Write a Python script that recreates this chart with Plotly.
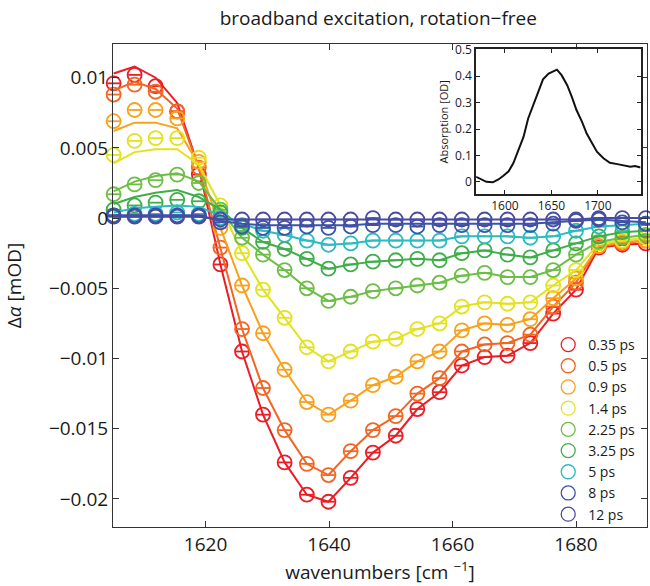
import plotly.graph_objects as go

# ---------------- data ----------------
wavenumber = [1605.1, 1608.5, 1611.9, 1615.4, 1618.9, 1622.4, 1625.9, 1629.3, 1632.8, 1636.4,
              1639.9, 1643.5, 1647.1, 1650.8, 1654.3, 1657.9, 1661.5, 1665.2, 1668.9, 1672.6,
              1676.3, 1680.0, 1683.7, 1687.5, 1691.3]

delays = ["0.35 ps", "0.5 ps", "0.9 ps", "1.4 ps", "2.25 ps", "3.25 ps", "5 ps", "8 ps", "12 ps"]
colors = ["#ec1c24", "#f26522", "#f9a11b", "#e3e21c", "#6cbe45", "#3fae49", "#2bbcc0", "#3a55a6", "#4a4aa3"]

d035 = [0.0096, 0.0102, 0.0094, 0.0076, 0.0031, -0.0033, -0.0095, -0.0140, -0.0174, -0.0197,
        -0.0202, -0.0185, -0.0167, -0.0155, -0.0136, -0.0124, -0.0105, -0.0099, -0.0098, -0.0089,
        -0.0068, -0.0051, -0.0021, -0.0019, -0.0018]
f035 = [0.0103, 0.0108, 0.0100, 0.0082, 0.0036, -0.0033, -0.0095, -0.0140, -0.0174, -0.0197,
        -0.0202, -0.0185, -0.0167, -0.0155, -0.0136, -0.0124, -0.0105, -0.0099, -0.0098, -0.0089,
        -0.0068, -0.0051, -0.0021, -0.0019, -0.0018]

d05 = [0.0088, 0.0095, 0.0090, 0.0076, 0.0036, -0.0021, -0.0079, -0.0121, -0.0151, -0.0175,
       -0.0183, -0.0166, -0.0151, -0.0141, -0.0125, -0.0114, -0.0095, -0.0090, -0.0089, -0.0083,
       -0.0063, -0.0046, -0.0020, -0.0018, -0.0016]
f05 = [0.0091, 0.0097, 0.0092, 0.0078, 0.0036, -0.0021, -0.0079, -0.0121, -0.0151, -0.0175,
       -0.0183, -0.0166, -0.0151, -0.0141, -0.0125, -0.0114, -0.0095, -0.0090, -0.0089, -0.0083,
       -0.0063, -0.0046, -0.0020, -0.0018, -0.0016]

d09 = [0.0069, 0.0077, 0.0077, 0.0071, 0.0040, -0.0007, -0.0048, -0.0082, -0.0108, -0.0131,
       -0.0140, -0.0130, -0.0119, -0.0113, -0.0102, -0.0095, -0.0080, -0.0075, -0.0076, -0.0072,
       -0.0057, -0.0043, -0.0020, -0.0017, -0.0016]
f09 = [0.0062, 0.0068, 0.0068, 0.0064, 0.0038, -0.0007, -0.0048, -0.0082, -0.0108, -0.0131,
       -0.0140, -0.0130, -0.0119, -0.0113, -0.0102, -0.0095, -0.0080, -0.0075, -0.0076, -0.0072,
       -0.0057, -0.0043, -0.0020, -0.0017, -0.0016]

d14 = [0.0045, 0.0055, 0.0057, 0.0057, 0.0043, 0.0009, -0.0025, -0.0051, -0.0071, -0.0092,
       -0.0102, -0.0095, -0.0088, -0.0086, -0.0079, -0.0075, -0.0063, -0.0060, -0.0061, -0.0060,
       -0.0048, -0.0037, -0.0018, -0.0016, -0.0014]
f14 = [0.0039, 0.0047, 0.0049, 0.0049, 0.0038, 0.0009, -0.0025, -0.0051, -0.0071, -0.0092,
       -0.0102, -0.0095, -0.0088, -0.0086, -0.0079, -0.0075, -0.0063, -0.0060, -0.0061, -0.0060,
       -0.0048, -0.0037, -0.0018, -0.0016, -0.0014]

d225 = [0.0017, 0.0024, 0.0027, 0.0031, 0.0025, 0.0006, -0.0014, -0.0026, -0.0037, -0.0050,
        -0.0059, -0.0056, -0.0052, -0.0050, -0.0048, -0.0046, -0.0041, -0.0039, -0.0042, -0.0042,
        -0.0037, -0.0026, -0.0017, -0.0014, -0.0012]
f225 = [0.0019, 0.0026, 0.0030, 0.0032, 0.0026, 0.0006, -0.0014, -0.0026, -0.0037, -0.0050,
        -0.0059, -0.0056, -0.0052, -0.0050, -0.0048, -0.0046, -0.0041, -0.0039, -0.0042, -0.0042,
        -0.0037, -0.0026, -0.0017, -0.0014, -0.0012]

d325 = [0.0006, 0.0009, 0.0011, 0.0013, 0.0012, 0.0004, -0.0007, -0.0017, -0.0022, -0.0029,
        -0.0036, -0.0033, -0.0031, -0.0030, -0.0029, -0.0030, -0.0025, -0.0023, -0.0026, -0.0028,
        -0.0023, -0.0018, -0.0013, -0.0010, -0.0009]
f325 = [0.0010, 0.0015, 0.0018, 0.0020, 0.0015, 0.0006, -0.0007, -0.0017, -0.0022, -0.0029,
        -0.0036, -0.0033, -0.0031, -0.0030, -0.0029, -0.0030, -0.0025, -0.0023, -0.0026, -0.0028,
        -0.0023, -0.0018, -0.0013, -0.0010, -0.0009]

d5 = [0.0002, 0.0003, 0.0003, 0.0004, 0.0003, 0.0000, -0.0005, -0.0009, -0.0012, -0.0016,
      -0.0019, -0.0018, -0.0016, -0.0016, -0.0016, -0.0016, -0.0013, -0.0013, -0.0013, -0.0014,
      -0.0013, -0.0009, -0.0006, -0.0005, -0.0004]
f5 = [0.0004, 0.0007, 0.0008, 0.0009, 0.0008, 0.0002, -0.0004, -0.0009, -0.0012, -0.0016,
      -0.0019, -0.0018, -0.0016, -0.0016, -0.0016, -0.0016, -0.0013, -0.0013, -0.0013, -0.0014,
      -0.0013, -0.0009, -0.0006, -0.0005, -0.0004]

d8 = [0.0002, 0.0002, 0.0002, 0.0002, 0.0002, -0.0003, -0.0006, -0.0007, -0.0007, -0.0006,
      -0.0007, -0.0006, -0.0005, -0.0005, -0.0006, -0.0005, -0.0005, -0.0005, -0.0005, -0.0005,
      -0.0004, -0.0002, -0.0001, -0.0003, -0.0004]
f8 = [0.0002, 0.0002, 0.0002, 0.0002, 0.0002, -0.0002, -0.0004, -0.0005, -0.0005, -0.0005,
      -0.0005, -0.0005, -0.0004, -0.0004, -0.0004, -0.0004, -0.0004, -0.0004, -0.0004, -0.0004,
      -0.0003, -0.0002, -0.0001, -0.0002, -0.0003]

d12 = [0.0001, 0.0001, 0.0001, 0.0001, 0.0001, -0.0001, -0.0001, -0.0001, -0.0001, -0.0001,
       -0.0001, -0.0001, 0.0000, -0.0001, -0.0001, -0.0001, -0.0001, -0.0001, -0.0001, -0.0001,
       -0.0001, -0.0001, 0.0000, 0.0000, 0.0000]
f12 = [0.0001, 0.0001, 0.0001, 0.0001, 0.0001, -0.0001, -0.0001, -0.0001, -0.0001, -0.0001,
       -0.0001, -0.0001, -0.0001, -0.0001, -0.0001, -0.0001, -0.0001, -0.0001, -0.0001, -0.0001,
       -0.0001, -0.0001, 0.0000, 0.0000, 0.0000]

measured = [d035, d05, d09, d14, d225, d325, d5, d8, d12]
fitted = [f035, f05, f09, f14, f225, f325, f5, f8, f12]

# inset: linear absorption spectrum
abs_wn = [1569, 1575, 1580, 1587, 1593, 1598, 1604, 1609, 1614, 1620, 1625, 1631, 1636, 1641,
          1647, 1652, 1656, 1661, 1667, 1672, 1677, 1683, 1688, 1694, 1699, 1706, 1713, 1721,
          1728, 1735, 1740, 1746]
abs_od = [0.019, 0.009, 0.000, -0.002, 0.009, 0.022, 0.040, 0.070, 0.114, 0.170, 0.240, 0.297,
          0.347, 0.388, 0.410, 0.420, 0.425, 0.404, 0.366, 0.322, 0.272, 0.227, 0.183, 0.145,
          0.114, 0.089, 0.072, 0.067, 0.063, 0.057, 0.060, 0.054]

ytick_vals = [-0.02, -0.015, -0.01, -0.005, 0, 0.005, 0.01]
ytick_text = ["\u22120.02", "\u22120.015", "\u22120.01", "\u22120.005", "0", "0.005", "0.01"]
xtick_vals = [1620, 1640, 1660, 1680]

FONT = "Open Sans"
INK = "#1a1a1a"

fig = go.Figure()

for name, col, dat, fit in zip(delays, colors, measured, fitted):
    fig.add_trace(go.Scatter(x=wavenumber, y=fit, mode="lines",
                             line=dict(color=col, width=2), showlegend=False, hoverinfo="skip"))
    fig.add_trace(go.Scatter(x=wavenumber, y=dat, mode="markers", cliponaxis=False,
                             marker=dict(symbol="circle-open", size=14, color=col,
                                         line=dict(width=1.8, color=col)),
                             showlegend=False, name=name))
    fig.add_trace(go.Scatter(x=wavenumber, y=dat, mode="markers", cliponaxis=False,
                             marker=dict(symbol="line-ew-open", size=9, color=col,
                                         line=dict(width=1.8, color=col)),
                             showlegend=False, hoverinfo="skip"))

for name, col in zip(delays, colors):
    fig.add_trace(go.Scatter(x=[None], y=[None], mode="markers", name=name,
                             marker=dict(symbol="circle-open", size=14, color=col,
                                         line=dict(width=1.3, color=col))))

fig.add_trace(go.Scatter(x=abs_wn, y=abs_od, mode="lines", xaxis="x2", yaxis="y2",
                         line=dict(color="#111111", width=2), showlegend=False))

fig.update_layout(
    width=650, height=586,
    margin=dict(l=113, r=3, t=44, b=59),
    paper_bgcolor="white", plot_bgcolor="white",
    font=dict(family=FONT, size=19, color=INK),
    title=dict(text="broadband excitation, rotation\u2212free", x=0.582, xref="container",
               xanchor="center", y=1 - 18 / 586, yref="container", yanchor="middle",
               font=dict(size=19, family=FONT, color=INK)),
    xaxis=dict(domain=[0, 1], range=[1605.0, 1691.5], tickvals=xtick_vals,
               ticks="inside", ticklen=6, tickcolor="#333", showline=True, linecolor="#333",
               linewidth=1, mirror="ticks", showgrid=False, zeroline=False,
               tickfont=dict(size=19),
               title=dict(text="wavenumbers [cm <sup>\u22121</sup>]", font=dict(size=19), standoff=6)),
    yaxis=dict(domain=[0, 1], range=[-0.022, 0.0124], tickvals=ytick_vals, ticktext=ytick_text,
               ticks="inside", ticklen=6, tickcolor="#333", showline=True, linecolor="#333",
               linewidth=1, mirror="ticks", showgrid=False, zeroline=False,
               tickfont=dict(size=19),
               title=dict(text="\u0394<i>\u03b1</i> [mOD]", font=dict(size=19), standoff=22)),
    xaxis2=dict(domain=[0.680, 0.988], anchor="y2", range=[1569, 1746],
                tickvals=[1600, 1650, 1700], ticks="inside", ticklen=4, tickcolor="#222",
                showline=True, linecolor="#222", linewidth=1.5, mirror="ticks",
                showgrid=False, zeroline=False, tickfont=dict(size=12)),
    yaxis2=dict(domain=[0.689, 0.989], anchor="x2", range=[-0.047, 0.502],
                tickvals=[0, 0.1, 0.2, 0.3, 0.4, 0.5], ticks="inside", ticklen=4, tickcolor="#222",
                showline=True, linecolor="#222", linewidth=1.5, mirror="ticks",
                showgrid=False, zeroline=False, tickfont=dict(size=12),
                title=dict(text="Absorption [OD]", font=dict(size=11), standoff=4)),
    legend=dict(x=0.815, y=0.41, xanchor="left", yanchor="top", bgcolor="rgba(0,0,0,0)",
                font=dict(size=14, family=FONT, color=INK), tracegroupgap=0, itemwidth=30),
)

fig.write_html("out.html")
